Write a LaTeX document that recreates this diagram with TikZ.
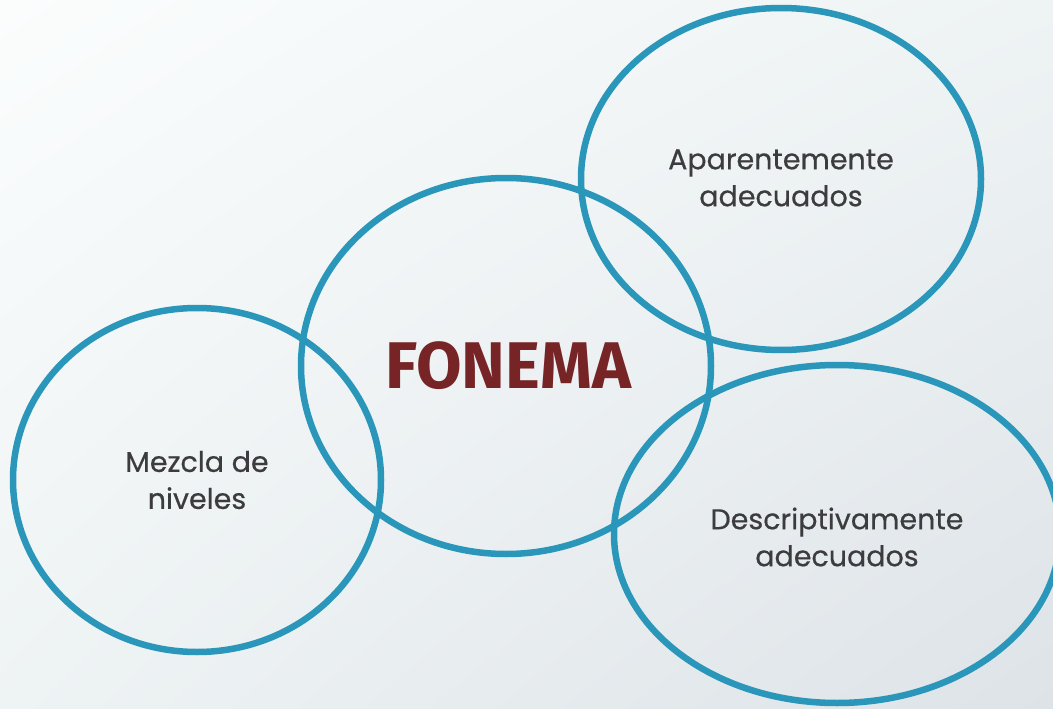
\documentclass[tikz,border=0pt]{standalone}
\usepackage{fontspec}
\setmainfont{Poppins}[FakeBold=0.5]
\newfontfamily\bigfont{Fira Sans}
\usetikzlibrary{shadings}
\definecolor{ring}{RGB}{42,151,186}
\definecolor{txt}{RGB}{60,60,62}
\definecolor{fon}{RGB}{118,36,38}
\definecolor{bgA}{RGB}{251,253,253}
\definecolor{bgB}{RGB}{238,243,244}
\definecolor{bgC}{RGB}{222,227,232}
\begin{document}
\begin{tikzpicture}[x=1pt,y=-1pt,
  ringst/.style={draw=ring,line width=6.5pt},
  lbl/.style={text=txt,font=\fontsize{28.5}{37}\selectfont,align=center},
  big/.style={text=fon,font=\bigfont\fontsize{66}{70}\selectfont\bfseries}]
\shade[upper left=bgA,upper right=bgB,lower left=bgB,lower right=bgC] (0,0) rectangle (1053,709);
\useasboundingbox (0,0) rectangle (1053,709);
\draw[ringst] (197,480) ellipse [x radius=184,y radius=172];
\draw[ringst] (506,366) ellipse [x radius=205,y radius=188];
\draw[ringst] (781,179) ellipse [x radius=200,y radius=171];
\draw[ringst] (837,534) ellipse [x radius=223,y radius=169];
\node[big] (c) at (508,366) {FONEMA};
\node[lbl] (a) at (781,178) {Aparentemente\\adecuados};
\node[lbl] (m) at (197,480) {Mezcla de\\niveles};
\node[lbl] (d) at (837,537) {Descriptivamente\\adecuados};
\end{tikzpicture}
\end{document}
